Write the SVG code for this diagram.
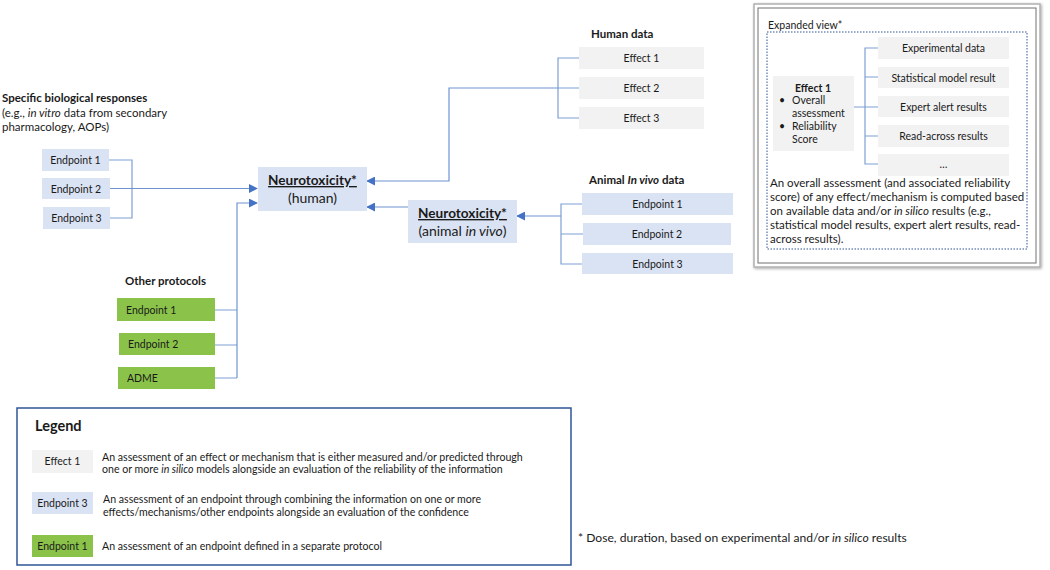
<svg xmlns="http://www.w3.org/2000/svg" width="1050" height="570" viewBox="0 0 1050 570">
<defs>
<marker id="arr" viewBox="0 0 10 10" refX="9" refY="5" markerWidth="9" markerHeight="9" markerUnits="userSpaceOnUse" orient="auto">
<path d="M0,0 L10,5 L0,10 z" fill="#4472c4"/>
</marker>
<filter id="sh" x="-5%" y="-5%" width="110%" height="110%"><feDropShadow dx="1" dy="1" stdDeviation="1.5" flood-color="#000" flood-opacity="0.35"/></filter>
</defs>
<style>
text{font-family:Lato,"Liberation Sans",sans-serif;fill:#1a1a1a}
.t{font-size:11.5px}
.lg{font-size:10.6px}
.s{font-size:10.5px}
.b{font-weight:bold}
.h{font-size:11.5px;font-weight:bold}
.mb{font-size:13.6px;font-weight:bold}
.m{font-size:14px}
.c{text-anchor:middle}
.grey{fill:#f2f2f2}
.blue{fill:#dae3f3}
.green{fill:#8bc34a}
.ln{fill:none;stroke:#7f9fd4;stroke-width:1.2}
.ar{fill:none;stroke:#6f93d0;stroke-width:1.2;marker-end:url(#arr)}
</style>
<rect width="1050" height="570" fill="#fff"/>

<g id="connectors">
<path class="ln" d="M109,160 H132 V218 H110"/>
<path class="ar" d="M110,188.5 H257"/>
<path class="ln" d="M215,310 H237 M215,345 H237 M215,378 H237"/>
<path class="ar" d="M237,378 V203 H257"/>
<path class="ln" d="M579,58 H558 V118 H579 M579,88 H558"/>
<path class="ar" d="M558,88 H449 V181 H367"/>
<path class="ar" d="M408,207 H367"/>
<path class="ln" d="M582,204 H561 V264 H582 M583,234 H561"/>
<path class="ar" d="M561,216 H517"/>
</g>

<g id="specific-title">
<text class="h" x="2" y="102">Specific biological responses</text>
<text class="t" x="2" y="117">(e.g., <tspan font-style="italic">in vitro</tspan> data from secondary</text>
<text class="t" x="2" y="131">pharmacology, AOPs)</text>
</g>
<g id="sbr-ep1"><rect class="blue" x="42" y="149" width="67" height="22"/><text class="s c" x="75.5" y="164">Endpoint 1</text></g>
<g id="sbr-ep2"><rect class="blue" x="42" y="178" width="68" height="21"/><text class="s c" x="76" y="192.5">Endpoint 2</text></g>
<g id="sbr-ep3"><rect class="blue" x="43" y="207" width="67" height="22"/><text class="s c" x="76.5" y="222">Endpoint 3</text></g>

<g id="neuro-human">
<rect class="blue" x="258" y="167" width="109" height="44"/>
<text class="mb c" x="312.5" y="185" text-decoration="underline">Neurotoxicity*</text>
<text class="m c" x="312.5" y="203">(human)</text>
</g>
<g id="neuro-animal">
<rect class="blue" x="408" y="200" width="109" height="43"/>
<text class="mb c" x="462.5" y="218" text-decoration="underline">Neurotoxicity*</text>
<text class="m c" x="462.5" y="236">(animal <tspan font-style="italic">in vivo</tspan>)</text>
</g>

<g id="human-data">
<text class="h" x="591" y="38">Human data</text>
</g>
<g id="hd-eff1"><rect class="grey" x="579" y="47" width="125" height="22"/><text class="s c" x="641.5" y="62">Effect 1</text></g>
<g id="hd-eff2"><rect class="grey" x="579" y="77" width="125" height="22"/><text class="s c" x="641.5" y="92">Effect 2</text></g>
<g id="hd-eff3"><rect class="grey" x="579" y="107" width="125" height="22"/><text class="s c" x="641.5" y="122">Effect 3</text></g>

<g id="animal-data">
<text class="h" x="589" y="184">Animal <tspan font-style="italic">In vivo</tspan> data</text>
</g>
<g id="ad-ep1"><rect class="blue" x="582" y="193" width="151" height="22"/><text class="s c" x="657.5" y="208">Endpoint 1</text></g>
<g id="ad-ep2"><rect class="blue" x="583" y="223" width="148" height="22"/><text class="s c" x="657" y="238">Endpoint 2</text></g>
<g id="ad-ep3"><rect class="blue" x="582" y="253" width="151" height="21"/><text class="s c" x="657.5" y="267.5">Endpoint 3</text></g>

<g id="other-protocols">
<text class="h" x="125" y="285">Other protocols</text>
</g>
<g id="op-ep1"><rect class="green" x="117" y="298" width="98" height="23"/><text class="s" x="126" y="313.5">Endpoint 1</text></g>
<g id="op-ep2"><rect class="green" x="119" y="333" width="96" height="22"/><text class="s" x="128" y="348">Endpoint 2</text></g>
<g id="op-adme"><rect class="green" x="118" y="367" width="97" height="22"/><text class="s" x="127" y="382">ADME</text></g>

<g id="expanded-view">
<rect x="754" y="4" width="286" height="263" fill="#fff" stroke="#b0b0b0" stroke-width="1.5" filter="url(#sh)"/>
<rect x="758" y="8" width="278" height="255" fill="none" stroke="#707070" stroke-width="1"/>
<text class="s" x="768" y="29">Expanded view*</text>
<rect x="767" y="32" width="260" height="217" fill="none" stroke="#2f5597" stroke-width="1" stroke-dasharray="1.5,1.5"/>
<g id="ev-effect1">
<rect class="grey" x="773" y="76" width="81" height="75"/>
<text class="s b c" x="813" y="92">Effect 1</text>
<text class="s" x="779" y="104">•</text><text class="s" x="792" y="104">Overall</text>
<text class="s" x="792" y="117">assessment</text>
<text class="s" x="779" y="130">•</text><text class="s" x="792" y="130">Reliability</text>
<text class="s" x="792" y="143">Score</text>
</g>
<path class="ln" d="M854,107 H865 M878,48 H865 V164 H878 M865,77 H878 M865,107 H878 M865,136 H878"/>
<g id="ev-exp"><rect class="grey" x="878" y="37" width="131" height="22"/><text class="s c" x="943.5" y="52">Experimental data</text></g>
<g id="ev-stat"><rect class="grey" x="878" y="67" width="131" height="21"/><text class="s c" x="943.5" y="81.5">Statistical model result</text></g>
<g id="ev-expert"><rect class="grey" x="878" y="96" width="131" height="21"/><text class="s c" x="943.5" y="110.5">Expert alert results</text></g>
<g id="ev-read"><rect class="grey" x="878" y="125" width="131" height="22"/><text class="s c" x="943.5" y="140">Read-across results</text></g>
<g id="ev-more"><rect class="grey" x="878" y="154" width="131" height="22"/><text class="s c" x="943.5" y="168">…</text></g>
<text class="t" x="770" y="187">An overall assessment (and associated reliability</text>
<text class="t" x="770" y="201">score) of any effect/mechanism is computed based</text>
<text class="t" x="770" y="214.5">on available data and/or <tspan font-style="italic">in silico</tspan> results (e.g.,</text>
<text class="t" x="770" y="228.5">statistical model results, expert alert results, read-</text>
<text class="t" x="770" y="243">across results).</text>
</g>

<g id="legend">
<rect x="17" y="408" width="554" height="157" fill="#fff" stroke="#2f5597" stroke-width="1.5"/>
<text x="35" y="431" font-size="14.5" font-weight="bold">Legend</text>
<g id="lg-effect"><rect class="grey" x="32" y="450" width="61" height="23"/><text class="s c" x="62.5" y="465">Effect 1</text></g>
<text class="lg" x="102" y="461">An assessment of an effect or mechanism that is either measured and/or predicted through</text>
<text class="lg" x="102" y="473">one or more <tspan font-style="italic">in silico</tspan> models alongside an evaluation of the reliability of the information</text>
<g id="lg-endpoint"><rect class="blue" x="32" y="492" width="61" height="22"/><text class="s c" x="62.5" y="507">Endpoint 3</text></g>
<text class="lg" x="103" y="503">An assessment of an endpoint through combining the information on one or more</text>
<text class="lg" x="103" y="516">effects/mechanisms/other endpoints alongside an evaluation of the confidence</text>
<g id="lg-protocol"><rect class="green" x="32" y="535" width="61" height="22"/><text class="s c" x="62.5" y="550">Endpoint 1</text></g>
<text class="lg" x="102" y="550">An assessment of an endpoint defined in a separate protocol</text>
</g>

<g id="footnote">
<text x="578" y="542" font-size="12.1">* Dose, duration, based on experimental and/or <tspan font-style="italic">in silico</tspan> results</text>
</g>
</svg>
